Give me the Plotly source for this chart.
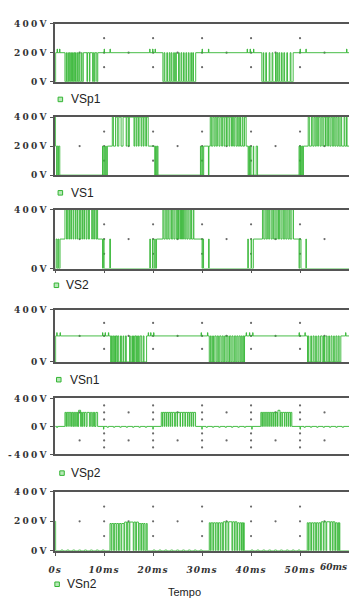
import plotly.graph_objects as go

W, H = 349, 604
T_MAX = 60.0
GREEN = "#33b533"
AXIS = "#555555"

NAMES = ["VSp1", "VS1", "VS2", "VSn1", "VSp2", "VSn2"]

# Each waveform is a list of runs: (switching instants in ms, levels in V).
# The levels are taken in turn at each instant and hold until the next one.
VSP1_RUNS = [
    ([0.0, 0.1], [0, 200]),
    ([0.4, 0.48, 0.9, 0.98], [225, 200]),
    ([2.0, 2.25, 2.35, 2.6, 2.7, 2.9, 3.05, 3.2, 3.35, 3.55, 3.7, 3.85, 4.0, 4.15,
      4.3, 4.55, 4.7, 4.9, 5.05, 5.35, 5.5, 5.75, 6.5, 6.6, 7.0, 7.1, 7.65, 7.8,
      8.0, 8.15, 8.5, 8.7], [0, 200]),
    ([10.0, 10.08, 11.2, 11.28], [225, 200]),
    ([19.3, 19.38, 19.9, 19.98, 20.4, 20.48], [225, 200]),
    ([22.0, 22.25, 22.4, 22.8, 22.95, 23.3, 23.45, 23.7, 23.85, 24.2, 24.35, 24.6,
      24.75, 25.2, 25.35, 25.7, 25.85, 26.2, 26.35, 26.7, 26.85, 27.2, 27.35, 27.7,
      27.85, 28.1, 28.25, 28.7], [0, 200]),
    ([30.0, 30.08, 31.3, 31.38], [225, 200]),
    ([39.2, 39.28, 39.8, 39.88, 40.5, 40.58], [225, 200]),
    ([42.2, 42.5, 42.6, 43.0, 43.15, 43.7, 43.85, 44.3, 44.45, 45.0, 45.1, 45.3,
      45.45, 45.7, 45.85, 46.2, 46.35, 46.7, 46.85, 47.3, 47.45, 48.0, 48.15, 48.6],
     [0, 200]),
    ([50.0, 50.08, 51.2, 51.28, 59.5, 59.58], [225, 200]),
]

VS1_RUNS = [
    ([0.0, 0.08, 0.3, 0.42, 0.6, 0.72, 0.95], [400, 200, 0, 200, 0, 200, 0]),
    ([9.67, 9.8, 10.0, 10.15, 10.33, 10.45, 10.67], [200, 0]),
    ([11.67, 11.9, 12.33, 12.7, 13.0, 13.47, 13.87, 14.5, 14.65, 15.0, 15.15, 16.1,
      16.25, 16.55, 16.7, 17.0, 17.15, 17.55, 17.7, 18.0, 18.15, 18.5, 18.65, 19.0],
     [400, 200]),
    ([20.33, 20.5, 20.67, 20.85, 21.0], [0, 200]),
    ([29.67, 29.8, 30.0, 30.15, 30.33, 31.3, 31.4], [200, 0]),
    ([31.67, 31.9, 32.2, 32.45, 32.67, 32.9, 33.13, 33.45, 33.67, 34.0, 34.2, 34.5,
      34.67, 35.0, 35.13, 35.5, 35.67, 36.0, 36.2, 36.45, 36.67, 36.95, 37.2, 37.4,
      37.67, 37.85, 38.2, 38.35, 38.67, 39.0], [400, 200]),
    ([39.4, 39.55, 39.7, 39.85, 40.0, 40.45, 40.55, 41.05, 41.33], [0, 200]),
    ([49.8, 49.95, 50.1, 50.25, 50.4, 50.55, 50.7], [200, 0]),
    ([51.67, 51.9, 52.33, 52.6, 52.87, 53.1, 53.33, 53.6, 53.8, 54.1, 54.33, 54.65,
      54.87, 55.2, 55.33, 55.65, 55.8, 56.1, 56.33, 56.6, 56.87, 57.1, 57.33, 57.55,
      57.8, 58.0, 58.33, 58.5, 59.0, 59.15, 59.5, 59.6], [400, 200]),
]

VS2_RUNS = [
    ([0.0, 0.2, 0.4, 0.6, 0.75, 1.0], [0, 200]),
    ([2.0, 2.33, 2.5, 2.8, 2.95, 3.2, 3.35, 3.67, 3.8, 4.13, 4.25, 4.53, 4.65, 5.0,
      5.15, 5.47, 5.6, 5.87, 6.0, 6.33, 6.5, 6.8, 7.0, 7.47, 7.6, 7.87, 8.05, 8.33,
      8.5, 8.67], [400, 200]),
    ([9.67, 9.85, 10.0, 11.15, 11.3], [0, 200]),
    ([19.33, 19.45, 19.87, 20.0, 20.33, 20.45, 20.7], [200, 0]),
    ([22.0, 22.2, 22.47, 22.7, 23.0, 23.2, 23.47, 23.75, 24.0, 24.25, 24.47, 24.75,
      25.0, 25.2, 25.33, 25.6, 25.8, 26.0, 26.2, 26.45, 26.67, 26.9, 27.13, 27.35,
      27.67, 27.85, 28.2, 28.33], [400, 200]),
    ([30.0, 30.15, 30.3, 31.33, 31.45], [0, 200]),
    ([39.33, 39.45, 40.0, 40.12, 40.47], [200, 0]),
    ([42.33, 42.6, 42.87, 43.1, 43.33, 43.6, 43.8, 44.1, 44.33, 44.6, 44.87, 45.1,
      45.33, 45.6, 45.8, 46.1, 46.33, 46.6, 46.87, 47.1, 47.33, 47.55, 47.8, 48.0,
      48.33, 48.67], [400, 200]),
    ([49.8, 49.95, 50.2, 51.2, 51.3], [0, 200]),
]

VSN1_RUNS = [
    ([0.0, 0.1], [0, 200]),
    ([0.33, 0.41, 1.0, 1.08], [225, 200]),
    ([9.67, 9.75, 10.2, 10.28, 10.87, 10.95], [225, 200]),
    ([11.33, 11.5, 11.67, 11.85, 12.0, 12.15, 12.33, 12.45, 12.67, 12.8, 13.0, 13.35,
      13.53, 13.87, 14.0, 14.35, 14.53, 15.2, 15.35, 15.67, 15.8, 16.0, 16.15, 16.3,
      16.53, 16.65, 16.8, 17.0, 17.15, 17.35, 17.67, 18.0, 18.15, 18.67], [0, 200]),
    ([19.0, 19.08, 19.5, 19.58, 20.1, 20.18], [225, 200]),
    ([29.8, 29.88, 31.1, 31.18], [225, 200]),
    ([31.47, 31.7, 31.87, 32.15, 32.33, 32.6, 32.87, 33.1, 33.33, 33.6, 33.87, 34.1,
      34.33, 34.6, 34.87, 35.1, 35.33, 35.6, 35.87, 36.1, 36.33, 36.6, 36.87, 37.1,
      37.33, 37.55, 37.8, 38.0, 38.2, 38.4, 38.55, 38.67], [0, 200]),
    ([39.0, 39.08, 39.67, 39.75, 40.33, 40.41], [225, 200]),
    ([49.8, 49.88, 51.0, 51.08], [225, 200]),
    ([51.53, 51.67, 51.8, 52.2, 52.33, 52.67, 52.87, 53.2, 53.33, 53.67, 53.87, 54.2,
      54.53, 54.8, 55.0, 55.33, 55.53, 55.87, 56.0, 56.33, 56.53, 56.87, 57.0, 57.33,
      57.53, 57.8, 58.0, 58.33], [0, 200]),
    ([59.3, 59.38], [225, 200]),
]

VSP2_RUNS = [
    ([0.0, 0.3, 0.5], [0, -15, 0]),
    ([2.0, 2.2, 2.33, 2.6, 2.67, 3.0, 3.07, 3.33, 3.47, 3.67, 3.8, 4.0, 4.13, 4.4,
      4.53, 4.67], [200, 0]),
    ([4.8, 5.2], [230, 0]),
    ([5.33, 5.47, 5.6, 5.87, 6.0, 6.33, 6.53, 7.0, 7.2, 7.47, 7.67, 7.87, 8.0, 8.13,
      8.33, 8.67], [200, 0]),
    ([9.87, 9.95], [-40, 0]),
    ([10.6, 10.9, 11.9, 12.2, 13.2, 13.5, 14.5, 14.8, 15.8, 16.1, 17.1, 17.4, 18.4,
      18.7], [-12, 0]),
    ([19.95, 20.03], [-40, 0]),
    ([21.67, 21.9, 22.0, 22.3, 22.4, 22.7, 22.8, 23.1, 23.2, 23.5, 23.6, 23.9, 24.0,
      24.4, 24.55, 24.9, 25.0, 25.5, 25.6, 26.0, 26.1, 26.5, 26.6, 27.0, 27.1, 27.4,
      27.5, 27.8, 27.9, 28.2, 28.3, 28.67], [200, 0]),
    ([29.95, 30.03], [-40, 0]),
    ([30.8, 31.1, 32.1, 32.4, 33.4, 33.7, 34.7, 35.0, 36.0, 36.3, 37.3, 37.6, 38.6,
      38.9], [-12, 0]),
    ([40.15, 40.23], [-40, 0]),
    ([42.0, 42.2, 42.33, 42.6, 42.7, 43.0, 43.1, 43.4, 43.5, 43.8, 43.9, 44.2, 44.3,
      44.6, 44.7, 45.0, 45.1, 45.4], [200, 0]),
    ([45.5, 45.9], [230, 0]),
    ([46.0, 46.3, 46.4, 46.8, 46.9, 47.2, 47.3, 47.6, 47.7, 48.0, 48.1, 48.33],
     [200, 0]),
    ([50.0, 50.08], [-40, 0]),
    ([50.8, 51.1, 52.1, 52.4, 53.4, 53.7, 54.7, 55.0, 56.0, 56.3, 57.3, 57.6, 58.6,
      58.9], [-12, 0]),
]

VSN2_RUNS = [
    ([0.0, 0.1], [200, 0]),
    ([1.2, 1.6, 2.4, 2.8, 3.6, 4.0, 4.8, 5.2, 6.0, 6.4, 7.2, 7.6, 8.4, 8.8, 9.6,
      10.0], [5, 0]),
    ([11.2, 11.45, 11.6, 11.95, 12.1, 12.45, 12.6, 12.95, 13.1, 13.45, 13.6, 14.05],
     [185, 0]),
    ([14.2, 14.6, 14.75, 15.1, 15.25, 15.95, 16.1, 16.45, 16.6, 17.0], [195, 0]),
    ([17.15, 17.5, 17.65, 17.95, 18.1, 18.35, 18.6, 18.8], [185, 0]),
    ([20.0, 20.4, 21.2, 21.6, 22.4, 22.8, 23.6, 24.0, 24.8, 25.2, 26.0, 26.4, 27.2,
      27.6, 28.4, 28.8, 29.6, 30.0], [5, 0]),
    ([31.47, 31.7, 31.85, 32.2, 32.35, 32.7, 32.85, 33.2, 33.35, 33.7, 33.85, 34.2],
     [190, 0]),
    ([34.35, 34.75, 34.9, 35.3, 35.45, 36.1, 36.25, 36.6, 36.75, 37.1], [197, 0]),
    ([37.25, 37.6, 37.75, 38.05, 38.2, 38.4, 38.5, 38.6], [190, 0]),
    ([40.0, 40.4, 41.2, 41.6, 42.4, 42.8, 43.6, 44.0, 44.8, 45.2, 46.0, 46.4, 47.2,
      47.6, 48.4, 48.8, 49.6, 50.0], [5, 0]),
    ([51.47, 51.7, 51.85, 52.2, 52.35, 52.7, 52.85, 53.2, 53.35, 53.7, 53.85, 54.2],
     [190, 0]),
    ([54.35, 54.75, 54.9, 55.3, 55.45, 56.1, 56.25, 56.6, 56.75, 57.1], [197, 0]),
    ([57.25, 57.55, 57.7, 57.9, 58.0, 58.13], [190, 0]),
]

RUNS = [VSP1_RUNS, VS1_RUNS, VS2_RUNS, VSN1_RUNS, VSP2_RUNS, VSN2_RUNS]

# Vertical extent of every panel (V) and its labelled ticks
Y_RANGES = [(0, 400), (0, 400), (0, 400), (0, 400), (-400, 400), (0, 400)]
Y_TICKS = [[0, 200, 400], [0, 200, 400], [0, 400], [0, 400], [-400, 0, 400],
           [0, 200, 400]]
Y_TICKTEXT = [["0V", "200V", "400V"], ["0V", "200V", "400V"], ["0V", "400V"],
              ["0V", "400V"], ["-400V", "0V", "400V"], ["0V", "200V", "400V"]]

X_TICKS = [0, 10, 20, 30, 40, 50]
X_TICKTEXT = ["0s", "10ms", "20ms", "30ms", "40ms", "50ms"]

# Dotted grid: dots on the 10 ms lines, and single dots at mid level between them
GRID_T = [10, 20, 30, 40, 50]
GRID_T_MID = [5, 15, 25, 35, 45, 55]
GRID_V = [[100, 200, 300]] * 4 + [[-300, -200, -100, 100, 200, 300]] + [[100, 200, 300]]
GRID_V_MID = [[200]] * 4 + [[-200, 200]] + [[200]]

# Panel frames in pixels (top, bottom) and legend placement (square x, text x, y)
PANEL_PX = [(19, 78), (114, 173), (208, 268), (310, 363), (400, 457), (495, 555)]
LEGEND_PX = [(55.3, 64, 96), (55.3, 64, 191), (51.3, 59, 285), (53.7, 63, 381),
             (57, 64, 476), (52, 60, 589)]
X_LEFT_PX = 50


def build(runs, t_end=T_MAX):
    t, v = [], []
    for edges, levels in runs:
        for i, te in enumerate(edges):
            t.append(te)
            v.append(levels[i % len(levels)])
    t.append(t_end)
    v.append(v[-1])
    return t, v


fig = go.Figure()
layout = dict(
    width=W, height=H, margin=dict(l=0, r=0, t=0, b=0),
    paper_bgcolor="white", plot_bgcolor="white", showlegend=False,
)

tick_font = dict(family="DejaVu Serif", size=9, color="#333333", weight="bold")

for i in range(6):
    n = i + 1
    xa = "x" if n == 1 else f"x{n}"
    ya = "y" if n == 1 else f"y{n}"
    top, bot = PANEL_PX[i]

    # grid dots
    gx, gy = [], []
    for t in GRID_T:
        for v in GRID_V[i]:
            gx.append(t); gy.append(v)
    for t in GRID_T_MID:
        for v in GRID_V_MID[i]:
            gx.append(t); gy.append(v)
    fig.add_trace(go.Scatter(x=gx, y=gy, mode="markers", xaxis=xa, yaxis=ya,
                             marker=dict(size=2.2, color="#6a6a6a"),
                             hoverinfo="skip"))

    t, v = build(RUNS[i])
    fig.add_trace(go.Scatter(x=t, y=v, mode="lines", line_shape="hv", name=NAMES[i],
                             xaxis=xa, yaxis=ya,
                             line=dict(color=GREEN, width=0.9)))

    last = (n == 6)
    ticks_below = n in (3, 6)
    layout["xaxis" if n == 1 else f"xaxis{n}"] = dict(
        domain=[X_LEFT_PX / W, 1.0], range=[0, T_MAX], anchor=ya,
        showgrid=False, zeroline=False, showline=True, mirror=True,
        linecolor=AXIS, linewidth=1.5,
        tickvals=X_TICKS + [60] if ticks_below else [],
        ticktext=(X_TICKTEXT + [""]) if last else None,
        showticklabels=last, ticklabelstandoff=7,
        ticks="outside" if ticks_below else "", ticklen=3, tickcolor=AXIS,
        tickfont=dict(tick_font, style="italic"),
    )
    layout["yaxis" if n == 1 else f"yaxis{n}"] = dict(
        domain=[1 - bot / H, 1 - top / H], range=list(Y_RANGES[i]), anchor=xa,
        showgrid=False, zeroline=False, showline=True, mirror=False,
        linecolor=AXIS, linewidth=1.5,
        tickvals=Y_TICKS[i], ticktext=Y_TICKTEXT[i],
        ticks="outside", ticklen=3, tickcolor=AXIS, tickfont=tick_font,
    )

fig.update_layout(**layout)

annotations = []
shapes = []
for i, (sx, tx, ly) in enumerate(LEGEND_PX):
    shapes.append(dict(type="rect", xref="paper", yref="paper",
                       x0=(sx - 2.3) / W, x1=(sx + 2.3) / W,
                       y0=1 - (ly + 2.3) / H, y1=1 - (ly - 2.3) / H,
                       fillcolor="#b9e8b9", line=dict(color=GREEN, width=1)))
    annotations.append(dict(text=NAMES[i], xref="paper", yref="paper",
                            x=tx / W, y=1 - ly / H, xanchor="left", yanchor="middle",
                            showarrow=False,
                            font=dict(family="Liberation Sans", size=12, color="#222222")))

annotations.append(dict(text="60ms", xref="x6", yref="paper", x=T_MAX, y=1 - 571 / H,
                        xanchor="right", yanchor="middle", showarrow=False,
                        font=dict(tick_font, style="italic")))
annotations.append(dict(text="Tempo", xref="paper", yref="paper", x=181.5 / W,
                        y=1 - 597 / H, xanchor="center", yanchor="middle",
                        showarrow=False,
                        font=dict(family="Liberation Sans", size=11, color="#222222")))

fig.update_layout(annotations=annotations, shapes=shapes)

# wider character spacing on the axis labels (every y/x axis layer)
spacing_js = """
document.querySelectorAll('.yaxislayer-above text').forEach(function (e) {
    e.setAttribute('letter-spacing', '2.2');
});
document.querySelectorAll('.xaxislayer-above text').forEach(function (e) {
    e.setAttribute('letter-spacing', '1');
});
"""
fig.write_html("out.html", post_script=spacing_js)
